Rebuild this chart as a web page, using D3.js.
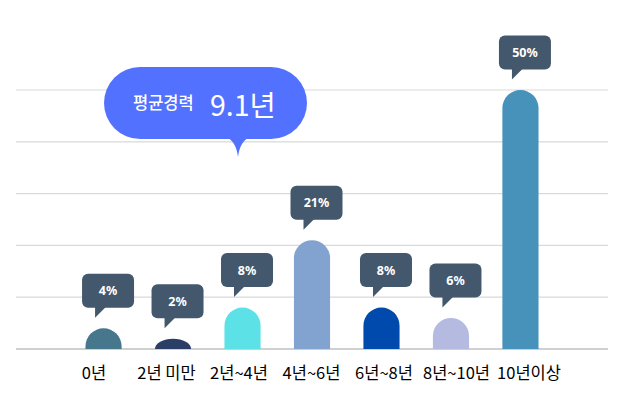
<!DOCTYPE html>
<html><head><meta charset="utf-8">
<script src="https://cdn.jsdelivr.net/npm/d3@7"></script>
<style>
html,body{margin:0;padding:0;background:#fff;}
svg{display:block;}
</style></head>
<body>
<svg id="chart" width="629" height="406"></svg>
<script>
const categories = ["0년","2년 미만","2년~4년","4년~6년","6년~8년","8년~10년","10년이상"];
const values = [4, 2, 8, 21, 8, 6, 50];
const colors = ["#46778D","#2B3F66","#5CE1E6","#82A3CF","#0049AD","#B5BAE0","#4692BA"];
const yTicks = [0,10,20,30,40,50];
const avgLabel = "평균경력";
const avgValue = "9.1년";

const svg = d3.select("#chart");
const x = d3.scaleBand().domain(categories).range([16,608]).paddingInner(0.48).paddingOuter(1);
const xLabel = d3.scalePoint().domain(categories).range([94,529]);
const y = d3.scaleLinear().domain([0,50]).range([349,90]);

// gridlines
svg.append("g").selectAll("line").data(yTicks).join("line")
  .attr("x1",16).attr("x2",608)
  .attr("y1",d=>y(d)).attr("y2",d=>y(d))
  .attr("stroke",d=>d===0?"#d0d0d0":"#d9d9d9")
  .attr("stroke-width",d=>d===0?2:1.2);

// bars with rounded tops
function barPath(x0,w,yTop,yBase){
  const h = yBase-yTop;
  const r = Math.min(w/2,h);
  return `M${x0},${yBase}V${yTop+r}A${w/2},${r} 0 0 1 ${x0+w/2},${yTop}A${w/2},${r} 0 0 1 ${x0+w},${yTop+r}V${yBase}Z`;
}
svg.append("g").selectAll("path").data(categories).join("path")
  .attr("d",(c,i)=>barPath(x(c),x.bandwidth(),y(values[i]),y(0)))
  .attr("fill",(c,i)=>colors[i]);

// labels (tooltips)
const bw=52,bh=34;
const lab = svg.append("g").selectAll("g").data(categories).join("g")
  .attr("transform",(c,i)=>{
    const cx = x(c)+x.bandwidth()/2+4.5;
    const bottom = y(values[i])-20.5;
    return `translate(${cx-bw/2},${bottom-bh})`;
  });
lab.append("rect").attr("width",bw).attr("height",bh).attr("rx",6).attr("fill","#44586D");
lab.append("path").attr("d",`M13,${bh-1}V${bh+10}L24,${bh-1}Z`).attr("fill","#44586D");
lab.append("text").attr("x",bw/2).attr("y",bh/2+4.5)
  .attr("text-anchor","middle").attr("fill","#fff")
  .attr("font-family","'Noto Sans', 'Liberation Sans', sans-serif")
  .attr("font-weight","bold").attr("font-size",12.5)
  .text((c,i)=>values[i]+"%");

// x labels
svg.append("g").selectAll("text").data(categories).join("text")
  .attr("x",c=>xLabel(c)).attr("y",379)
  .attr("text-anchor","middle").attr("fill","#000")
  .attr("font-family","'Noto Sans CJK KR', sans-serif")
  .attr("font-size",16.5)
  .text(c=>c);

// average bubble
const bub = svg.append("g");
bub.append("rect").attr("x",104).attr("y",67).attr("width",203).attr("height",72).attr("rx",36).attr("fill","#5271FF");
bub.append("path").attr("d","M226,137 Q236,141 238,157 Q240,141 250,137 Z").attr("fill","#5271FF");
bub.append("text").attr("x",133).attr("y",109)
  .attr("fill","#fff").attr("font-family","'Noto Sans CJK KR', sans-serif")
  .attr("font-weight",500).attr("font-size",16.5).text(avgLabel);
bub.append("text").attr("x",210).attr("y",116)
  .attr("fill","#fff").attr("font-family","'Noto Sans CJK KR', sans-serif")
  .attr("font-weight",400).attr("font-size",28.5).text(avgValue);
</script>
</body></html>
